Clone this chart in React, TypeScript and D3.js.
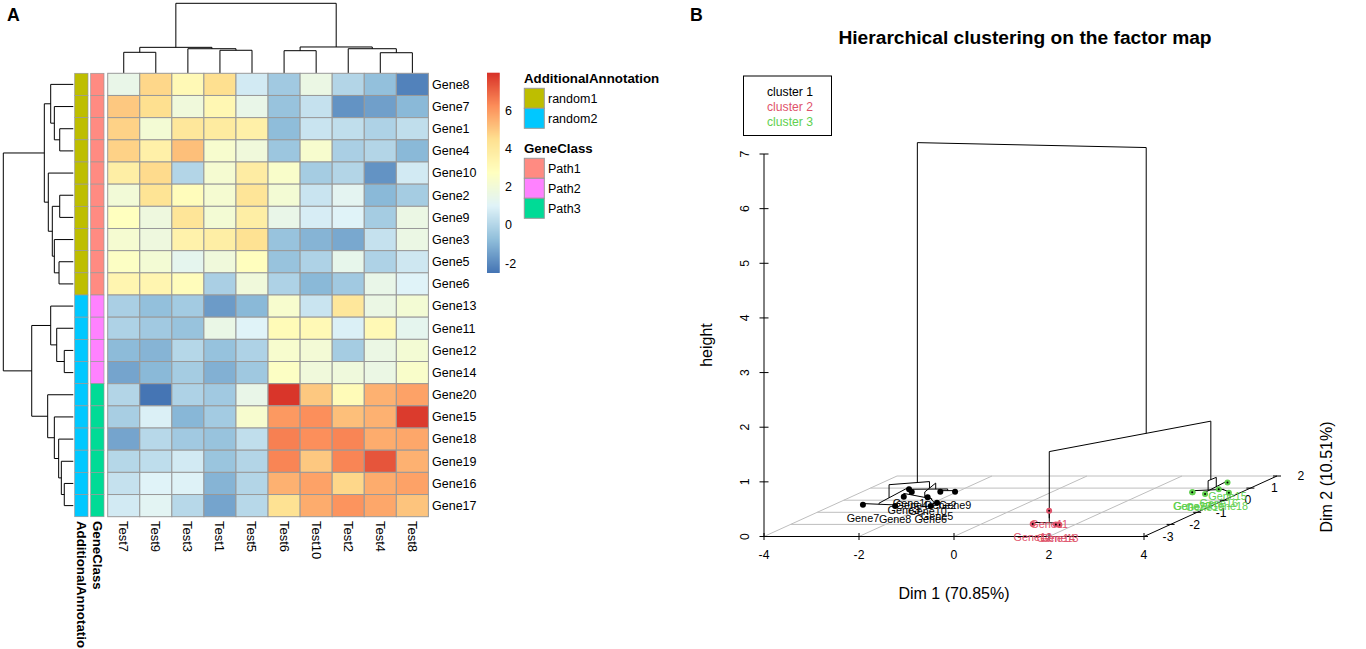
import React from "react";
import * as d3 from "d3";

const FONT = "'Liberation Sans', Arial, sans-serif";

// ---------- Panel A data ----------
const rowGenes = ["Gene8","Gene7","Gene1","Gene4","Gene10","Gene2","Gene9","Gene3","Gene5","Gene6","Gene13","Gene11","Gene12","Gene14","Gene20","Gene15","Gene18","Gene19","Gene16","Gene17"];
const colTests = ["Test7","Test9","Test3","Test1","Test5","Test6","Test10","Test2","Test4","Test8"];
const heatValues: number[][] = [
  [1.5,4.7,3.1,4.5,0.7,-0.4,1.6,0,-0.7,-2.2],
  [5,4.5,1.9,3.2,1.5,-0.6,0.4,-1.8,-1.5,-0.9],
  [4.8,2.1,4.1,3.9,3.6,-0.8,0.5,0.3,-0.1,0.3],
  [4.8,3.6,5.2,2.3,1.9,-0.5,2.3,-0.2,0,-0.9],
  [3.7,4.6,0,2.2,3.8,2.4,-0.3,0,-1.8,0.7],
  [2,4.3,2.9,2.2,4.2,2.1,0.5,1.2,-0.9,-0.3],
  [2.75,1.8,4.2,2.1,3.7,1.5,0.8,1,-0.3,1.6],
  [2.2,1.8,3.5,3.7,4.4,-0.6,-1,-1.3,0.4,1.6],
  [2.6,2.1,1.3,1.9,2.8,-0.6,-0.1,1.4,-0.1,0.6],
  [3.3,3.3,2.9,-0.2,1.9,-0.1,-0.9,-0.4,1.5,1],
  [-0.2,-0.7,-0.35,-1.6,-0.9,2.3,0.5,4.1,1.6,2.1],
  [-0.1,-0.4,-0.6,1.55,1,3,3.1,0.9,3.1,1.3],
  [-0.85,-1,0.05,-0.65,-0.1,2.3,2.05,-0.3,1.6,2.1],
  [-1.4,-0.9,-0.3,-1.1,-0.45,2.6,1.9,1.85,1.6,2.4],
  [0,-2.5,-0.1,-0.4,1.5,7.9,5,3,5.5,5.8],
  [-0.25,0.9,-0.95,-0.35,2.3,6,6.2,5.2,5.5,7.8],
  [-1.4,0.1,-0.4,-0.6,0.3,6.5,6.2,6.4,5.6,5.7],
  [0.05,0.25,0.7,-0.55,0,6.4,5,6.4,7.3,5.5],
  [0.4,1,0.95,-1,0,5.5,5.8,4.7,5.6,5.8],
  [0.7,1.15,0.1,-1.4,0.1,4.4,5.6,6.1,5.7,5.1],
];
const paletteStops = [-2.5,-0.75,1,2.75,4.5,6.25,8];
const paletteColors = ["#4575B4","#91BFDB","#E0F3F8","#FFFFBF","#FEE090","#FC8D59","#D73027"];
const legendTicks = [-2,0,2,4,6];

type HTree = number | [HTree, HTree, number];
const rowTree: HTree = [
  [[0,[1,[2,3,1.94],2.71],3.23],[4,[[5,6,1.94],[7,[8,9,2.04],2.71],3.0],3.57],4.14],
  [[10,[11,[12,13,1.29],2.37],3.23],[14,[15,[16,[17,[18,19,1.29],1.71],2.09],2.71],3.66],5.94],
  10,
];
const colTree: HTree = [
  [[0,1,3.0],[2,[3,4,3.29],3.51],3.71],
  [[5,6,3.23],[7,[8,9,2.94],3.51],3.76],
  10,
];

const additionalLevels = ["random1","random2"];
const additionalColors = ["#BEBE00","#00C8FF"];
const additionalCounts = [10,10];
const geneClassLevels = ["Path1","Path2","Path3"];
const geneClassColors = ["#FF8B82","#FF82FF","#00DB96"];
const geneClassCounts = [10,4,6];

// ---------- Panel B data ----------
const geneCoordNames = ["Gene7","Gene8","Gene1","Gene3","Gene4","Gene10","Gene6","Gene5","Gene2","Gene9","Gene11","Gene12","Gene13","Gene14","Gene17","Gene20","Gene18","Gene16","Gene19","Gene15"];
const dim1Values = [-3.39,-2.65,-3.13,-2.90,-2.95,-2.37,-1.90,-1.92,-2.36,-2.05,0.81,1.08,1.67,1.59,2.98,2.97,3.76,3.39,3.32,3.26];
const dim2Values = [-0.37,-0.48,0.90,0.29,0.68,0.24,-0.48,-0.21,0.70,0.70,-0.87,-1.97,-2.02,-2.01,0.65,0.65,0.62,0.90,0.51,1.46];
const clusterIds = [1,1,1,1,1,1,1,1,1,1,2,2,2,2,3,3,3,3,3,3];
const clusterColors = ["#000000","#DF536B","#61D04F"];
const clusterNames = ["cluster 1","cluster 2","cluster 3"];

type GTree = string | [GTree, GTree, number];
const blackTree: GTree = [[["Gene7","Gene8",0.02],"Gene1",0.04],[["Gene4",["Gene2","Gene9",0.02],0.05],["Gene3",["Gene10",["Gene6","Gene5",0.02],0.04],0.06],0.16],0.28];
const redTree: GTree = ["Gene11",["Gene12",["Gene13","Gene14",0.01],0.03],0.05];
const greenTree: GTree = [[["Gene17","Gene20",0.005],["Gene18","Gene16",0.02],0.03],["Gene19","Gene15",0.03],0.2];
const factorTree: GTree = [blackTree,[redTree,greenTree,1.27],6.5];

const dim1Ticks = [-4,-2,0,2,4];
const dim2Ticks = [-3,-2,-1,0,1,2];
const heightTicks = [0,1,2,3,4,5,6,7];

// ---------- scales ----------
const color = d3.scaleLinear<string>().domain(paletteStops).range(paletteColors).interpolate(d3.interpolateRgb);
const xCell = d3.scaleBand<number>().domain(d3.range(colTests.length)).range([107.7,428.4]);
const yCell = d3.scaleBand<number>().domain(d3.range(rowGenes.length)).range([73.3,516.7]);
const colH = d3.scaleLinear().domain([0,10]).range([73.3,3.3]);
const rowH = d3.scaleLinear().domain([0,10]).range([73.3,3.3]);
const legendY = d3.scaleLinear().domain([-2.5,8]).range([272.7,72.7]);

const px3 = d3.scaleLinear().domain([-4,4]).range([764,1144]);
const depthX = d3.scaleLinear().domain([-3,2]).range([0,133]);
const depthY = d3.scaleLinear().domain([-3,2]).range([0,60.5]);
const pz3 = d3.scaleLinear().domain([0,7]).range([536.5,154]);
const proj = (x: number, y: number, z: number): [number, number] => [px3(x)+depthX(y), pz3(z)-depthY(y)];

function bracketPaths(tree: HTree, center: (i:number)=>number, h:(v:number)=>number, horizontal: boolean) {
  const out: string[] = [];
  const walk = (t: HTree): {p:number; v:number} => {
    if (typeof t === "number") return {p:center(t), v:0};
    const a = walk(t[0]); const b = walk(t[1]);
    const path = d3.path();
    const pt = (v:number,p:number): [number,number] => horizontal ? [h(v),p] : [p,h(v)];
    path.moveTo(...pt(a.v,a.p));
    path.lineTo(...pt(t[2],a.p));
    path.lineTo(...pt(t[2],b.p));
    path.lineTo(...pt(b.v,b.p));
    out.push(path.toString());
    return {p:(a.p+b.p)/2, v:t[2]};
  };
  walk(tree);
  return out;
}

function factorSegments(tree: GTree) {
  const out: string[] = [];
  const idx = (n:string)=>geneCoordNames.indexOf(n);
  const line = d3.line();
  const walk = (t: GTree): {x:number;y:number;z:number;n:number} => {
    if (typeof t === "string") { const i = idx(t); return {x:dim1Values[i],y:dim2Values[i],z:0,n:1}; }
    const a = walk(t[0]); const b = walk(t[1]);
    out.push(line([proj(a.x,a.y,a.z),proj(a.x,a.y,t[2]),proj(b.x,b.y,t[2]),proj(b.x,b.y,b.z)])!);
    const n = a.n+b.n;
    return {x:(a.x*a.n+b.x*b.n)/n,y:(a.y*a.n+b.y*b.n)/n,z:t[2],n};
  };
  walk(tree);
  return out;
}

function annoCells(levels:number[], colors:string[]) {
  const cells: {row:number;fill:string}[] = [];
  let r = 0;
  levels.forEach((n,k)=>{ for(let i=0;i<n;i++) cells.push({row:r++,fill:colors[k]}); });
  return cells;
}

export default function App() {
  const legendSteps = d3.range(-2.5,8,10.5/200);
  const rowCenter = (i:number)=>yCell(i)!+yCell.bandwidth()/2;
  const colCenter = (i:number)=>xCell(i)!+xCell.bandwidth()/2;
  const annos = [
    {x:74.7,w:13.3,cells:annoCells(additionalCounts,additionalColors),name:"AdditionalAnnotation"},
    {x:90.7,w:13.3,cells:annoCells(geneClassCounts,geneClassColors),name:"GeneClass"},
  ];
  const gridC = "#BEBEBE";
  const labelPx = 10.8;
  return (
    <svg width={1366} height={649} style={{position:"absolute",left:0,top:0,fontFamily:FONT}}>
      <rect width={1366} height={649} fill="#fff"/>
      <text x={7} y={20.5} fontSize={17.7} fontWeight="bold">A</text>
      <text x={690} y={20.5} fontSize={17.7} fontWeight="bold">B</text>

      {/* dendrograms */}
      {bracketPaths(colTree,colCenter,colH,false).map((d,i)=><path key={i} d={d} fill="none" stroke="#000" strokeWidth={1}/>)}
      {bracketPaths(rowTree,rowCenter,rowH,true).map((d,i)=><path key={i} d={d} fill="none" stroke="#000" strokeWidth={1}/>)}

      {/* annotations */}
      {annos.map(a=>(
        <g key={a.name}>
          {a.cells.map(c=><rect key={c.row} x={a.x} y={yCell(c.row)} width={a.w} height={yCell.bandwidth()} fill={c.fill} stroke="#999" strokeWidth={0.7}/>)}
          <text transform={`translate(${a.x+a.w/2},521) rotate(90)`} dy="0.35em" fontSize={13.3} fontWeight="bold">{a.name}</text>
        </g>
      ))}

      {/* heat cells */}
      {heatValues.map((row,r)=>row.map((v,c)=>(
        <rect key={r+"-"+c} x={xCell(c)} y={yCell(r)} width={xCell.bandwidth()} height={yCell.bandwidth()} fill={color(v)} stroke="#999" strokeWidth={1}/>
      )))}
      {rowGenes.map((g,i)=><text key={g} x={432} y={rowCenter(i)} dy="0.35em" fontSize={12.5}>{g}</text>)}
      {colTests.map((t,i)=><text key={t} transform={`translate(${colCenter(i)},521) rotate(90)`} dy="0.35em" fontSize={13}>{t}</text>)}

      {/* colour legend */}
      {legendSteps.map((v,i)=><rect key={i} x={487} y={legendY(v+10.5/200)} width={12.7} height={1.3} fill={color(v)}/>)}
      {legendTicks.map(t=><text key={t} x={505} y={legendY(t)} dy="0.35em" fontSize={12.5}>{t}</text>)}

      {/* annotation legends */}
      <text x={524} y={78} dy="0.35em" fontSize={13.3} fontWeight="bold">AdditionalAnnotation</text>
      {additionalLevels.map((l,i)=>(
        <g key={l}>
          <rect x={524.3} y={88.3+i*20} width={20} height={20} fill={additionalColors[i]} stroke="#999" strokeWidth={1}/>
          <text x={548} y={98.3+i*20} dy="0.35em" fontSize={12.5}>{l}</text>
        </g>
      ))}
      <text x={524} y={148} dy="0.35em" fontSize={13.3} fontWeight="bold">GeneClass</text>
      {geneClassLevels.map((l,i)=>(
        <g key={l}>
          <rect x={524.3} y={158.3+i*20} width={20} height={20} fill={geneClassColors[i]} stroke="#999" strokeWidth={1}/>
          <text x={548} y={168.3+i*20} dy="0.35em" fontSize={12.5}>{l}</text>
        </g>
      ))}

      {/* Panel B */}
      <text x={1025} y={37} dy="0.35em" textAnchor="middle" fontSize={19.2} fontWeight="bold">Hierarchical clustering on the factor map</text>
      <rect x={743.5} y={76} width={88} height={59.5} fill="#fff" stroke="#000" strokeWidth={1}/>
      {clusterNames.map((n,i)=><text key={n} x={767} y={91.7+i*15} dy="0.35em" fontSize={12.2} fill={clusterColors[i]}>{n}</text>)}

      {/* grid */}
      {dim1Ticks.slice(0,-1).map(t=>{ const a=proj(t,-3,0), b=proj(t,2,0); return <line key={t} x1={a[0]} y1={a[1]} x2={b[0]} y2={b[1]} stroke={gridC}/>; })}
      {dim2Ticks.slice(1).map(t=>{ const a=proj(-4,t,0), b=proj(4,t,0); return <line key={t} x1={a[0]} y1={a[1]} x2={b[0]} y2={b[1]} stroke={gridC}/>; })}

      {/* axes */}
      <line x1={px3(-4)} x2={px3(-4)} y1={pz3(0)} y2={pz3(7)} stroke="#000"/>
      {heightTicks.map(t=>(
        <g key={t}>
          <line x1={px3(-4)-4.5} x2={px3(-4)+4.5} y1={pz3(t)} y2={pz3(t)} stroke="#000"/>
          <text transform={`translate(745,${pz3(t)}) rotate(-90)`} dy="0.35em" textAnchor="middle" fontSize={12.2}>{t}</text>
        </g>
      ))}
      <line x1={px3(-4)} x2={px3(4)} y1={pz3(0)} y2={pz3(0)} stroke="#000"/>
      {dim1Ticks.map(t=>(
        <g key={t}>
          <line x1={px3(t)} x2={px3(t)} y1={pz3(0)-3.5} y2={pz3(0)+3.5} stroke="#000"/>
          <text x={px3(t)} y={555} dy="0.35em" textAnchor="middle" fontSize={12.2}>{t}</text>
        </g>
      ))}
      {(()=>{ const a=proj(4,-3,0), b=proj(4,2,0); return <line x1={a[0]} y1={a[1]} x2={b[0]} y2={b[1]} stroke="#000"/>; })()}
      {dim2Ticks.map(t=>{ const p=proj(4,t,0); return (
        <g key={t}>
          <line x1={p[0]-4} x2={p[0]+4} y1={p[1]} y2={p[1]} stroke="#000"/>
          <text x={p[0]+24} y={p[1]} dy="0.35em" textAnchor="middle" fontSize={12.2}>{t}</text>
        </g>
      );})}
      <text x={954} y={593} dy="0.35em" textAnchor="middle" fontSize={16}>Dim 1 (70.85%)</text>
      <text transform="translate(706,345) rotate(-90)" dy="0.35em" textAnchor="middle" fontSize={16}>height</text>
      <text transform="translate(1326,477) rotate(-90)" dy="0.35em" textAnchor="middle" fontSize={16}>Dim 2 (10.51%)</text>

      {/* tree */}
      {factorSegments(factorTree).map((d,i)=><path key={i} d={d} fill="none" stroke="#000" strokeWidth={1}/>)}

      {/* points + labels */}
      {geneCoordNames.map((g,i)=>{
        const p=proj(dim1Values[i],dim2Values[i],0);
        const col=clusterColors[clusterIds[i]-1];
        return (
          <g key={g}>
            <circle cx={p[0]} cy={p[1]} r={3} fill={col}/>
            <circle cx={p[0]} cy={p[1]} r={1} fill="#000"/>
            <text x={p[0]} y={p[1]+13.5} dy="0.35em" textAnchor="middle" fontSize={labelPx} fill={col}>{g}</text>
          </g>
        );
      })}
    </svg>
  );
}
